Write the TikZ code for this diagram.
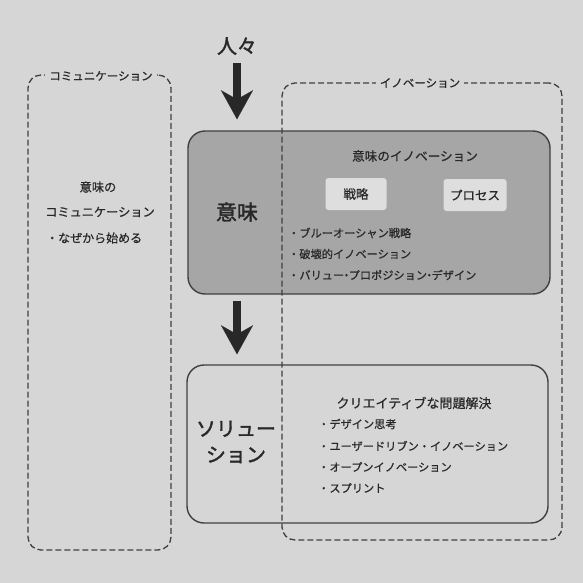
\documentclass[tikz,border=0pt]{standalone}
\usepackage{fontspec}
\setmainfont{Noto Sans CJK JP}[FakeBold=0.6]
\newfontfamily\bigjp{Noto Sans CJK JP}[FakeBold=1.8]
\usetikzlibrary{arrows.meta}
\definecolor{bg}{HTML}{D6D6D6}
\definecolor{midgray}{HTML}{A6A6A6}
\definecolor{chip}{HTML}{DEDEDE}
\definecolor{ink}{HTML}{282828}
\definecolor{edge}{HTML}{404040}
\newcommand{\fs}[1]{\fontsize{#1}{#1}\selectfont}
\begin{document}
\begin{tikzpicture}[x=1pt,y=-1pt,
  txt/.style={text=ink, inner sep=0pt},
  mainbox/.style={draw=edge, line width=1.4pt, rounded corners=17pt, inner sep=0pt, rectangle},
  dashbox/.style={draw=edge, line width=1.3pt, dash pattern=on 6pt off 3pt, rounded corners=13pt, inner sep=0pt, rectangle},
  dashlabel/.style={txt, fill=bg, inner xsep=4pt, inner ysep=2pt, font=\fs{11.5}},
  chipbox/.style={fill=chip, rounded corners=3pt, inner sep=0pt, minimum height=32pt, text=ink, font=\fs{12.5}},
  bullet/.style={txt, anchor=west, font=\fs{11.2}},
  bigarrow/.style={draw=ink, line width=8pt, -{Stealth[length=29pt,width=32pt,inset=9pt,line width=0.1pt]}}
]
\fill[bg] (0,0) rectangle (583,583);
\useasboundingbox (0,0) rectangle (583,583);

% main boxes
\node[mainbox, fill=midgray, minimum width=362pt, minimum height=163pt] (imibox) at (369,212.5) {};
\node[mainbox, minimum width=361pt, minimum height=158pt] (solbox) at (367.5,444) {};

% dashed groups
\node[dashbox, minimum width=143pt, minimum height=475pt] (combox) at (99.5,312.5) {};
\node[dashbox, minimum width=280pt, minimum height=457pt] (innobox) at (422,311.5) {};
\node[dashlabel] (comlabel) at (101,76) {コミュニケーション};
\node[dashlabel] (innolabel) at (420,83) {イノベーション};

% top label and arrows
\node[txt, font=\bigjp\fs{20}] (hito) at (237,46) {人々};
\draw[bigarrow, shorten <=8pt, shorten >=11pt] (hito.south) -- (hito |- imibox.north);
\draw[bigarrow, shorten <=6pt, shorten >=10pt] (hito |- imibox.south) -- (hito |- solbox.north);

% left texts
\node[txt, font=\fs{12.2}] (cm1) at (98,187) {意味の};
\node[txt, font=\fs{12.2}] (cm2) at (100,212) {コミュニケーション};
\node[bullet, font=\fs{12}] (cm3) at (46,238) {・なぜから始める};

% meaning box
\node[txt, font=\bigjp\fs{21}] (imi) at (237,212) {意味};
\node[txt, font=\fs{12.6}] (imititle) at (415,156) {意味のイノベーション};
\node[chipbox, minimum width=61pt] (senryaku) at (356,194) {戦略};
\node[chipbox, minimum width=63pt] (process) at (475,195) {プロセス};
\node[bullet] (b1) at (288,233) {・ブルーオーシャン戦略};
\node[bullet] (b2) at (288,254) {・破壊的イノベーション};
\node[bullet] (b3) at (288,275) {・バリュー\hspace{-0.3em}・\hspace{-0.3em}プロポジション\hspace{-0.3em}・\hspace{-0.3em}デザイン};

% solution box
\node[txt, font=\bigjp\fs{20}, align=center] (sol) at (236,442) {ソリュー\\[6pt]ション};
\node[txt, font=\fs{13}] (soltitle) at (414,403) {クリエイティブな問題解決};
\node[bullet] (s1) at (318,424) {・デザイン思考};
\node[bullet] (s2) at (318,446) {・ユーザードリブン・イノベーション};
\node[bullet] (s3) at (318,467) {・オープンイノベーション};
\node[bullet] (s4) at (318,488) {・スプリント};
\end{tikzpicture}
\end{document}
